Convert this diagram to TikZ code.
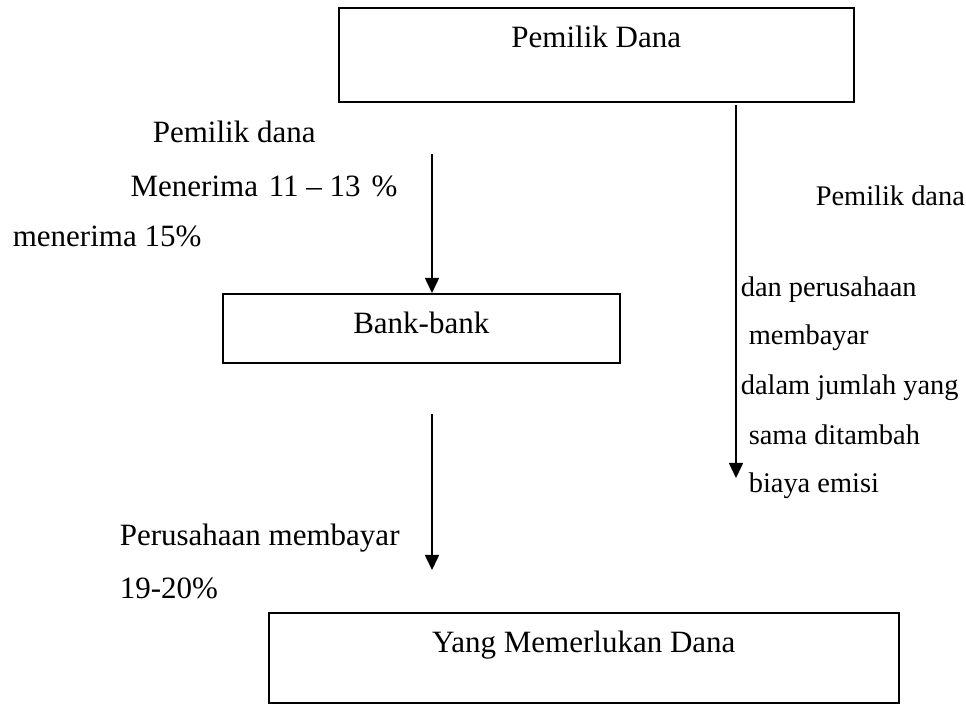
\documentclass[tikz,border=0pt]{standalone}
\usepackage{fontspec}
\setmainfont{Liberation Serif}
\usetikzlibrary{arrows.meta, positioning}

\begin{document}
\begin{tikzpicture}[
    x=0.5pt, y=-0.5pt,
    line width=0.8pt,
    box/.style={rectangle, draw, inner sep=0pt, text height=20pt, font=\fontsize{15.5}{18}\selectfont},
    lbl/.style={inner sep=0pt, anchor=base west, font=\fontsize{15.5}{18}\selectfont},
    rlbl/.style={inner sep=0pt, anchor=base west, font=\fontsize{14.2}{17}\selectfont},
    flow/.style={-{Triangle[length=7.5pt, width=7pt]}},
]
    \useasboundingbox (0,0) rectangle (966,705);

    % boxes
    \node[box, anchor=north west, minimum width=257.5pt, minimum height=47pt, text depth=27pt] (dana) at (338,7) {Pemilik Dana};
    \node[box, anchor=north west, minimum width=198.5pt, minimum height=34.5pt, text depth=14.5pt] (bank) at (222,293) {Bank-bank};
    \node[box, anchor=north west, minimum width=315pt, minimum height=45pt, text depth=25pt] (perlu) at (268,612) {Yang Memerlukan Dana};

    % left labels
    \node[lbl] (l1) at (152,143) {Pemilik dana};
    \node[lbl, anchor=base] (l2) at (264,197) {Menerima\hspace{0.35em}11 -- 13\hspace{0.35em}\%};
    \node[lbl] (l3) at (12,247) {menerima 15\%};
    \node[lbl] (l4) at (119,546) {Perusahaan membayar};
    \node[lbl] (l5) at (119,599) {19-20\%};

    % right labels
    \node[rlbl] (r1) at (815,206) {Pemilik dana};
    \node[rlbl] (r2) at (740,297) {dan perusahaan};
    \node[rlbl] (r3) at (748,345) {membayar};
    \node[rlbl] (r4) at (740,395) {dalam jumlah yang};
    \node[rlbl] (r5) at (748,445) {sama ditambah};
    \node[rlbl] (r6) at (748,493) {biaya emisi};

    % arrows
    \coordinate (a1) at (432,154);
    \coordinate (a2s) at (432,414);
    \coordinate (a2e) at (432,570);
    \coordinate (a3s) at (736,105);
    \coordinate (a3e) at (736,478);
    \draw[flow] (a1) -- (a1 |- bank.north);
    \draw[flow] (a2s) -- (a2e);
    \draw[flow] (a3s) -- (a3e);
\end{tikzpicture}
\end{document}
